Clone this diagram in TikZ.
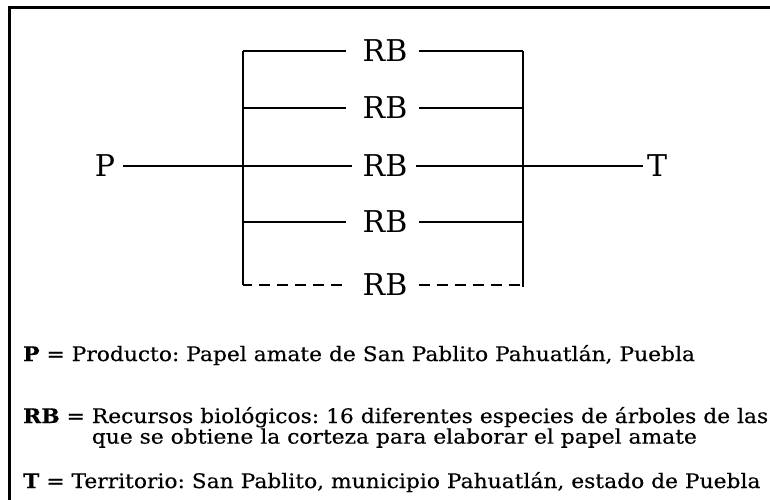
\documentclass[tikz,border=0pt]{standalone}
\usepackage{fontspec}
\setmainfont{DejaVu Serif}
\newfontfamily\keyfont[FakeStretch=1.09, FakeBold=0.4]{DejaVu Serif}

\begin{document}
\begin{tikzpicture}[
  x=1pt, y=-1pt,
  lbl/.style={inner sep=0pt, font=\fontsize{30}{32}\selectfont},
  link/.style={line width=1.7pt},
  dlink/.style={line width=1.7pt, dash pattern=on 11pt off 7pt},
  key/.style={anchor=base west, inner sep=0pt, font=\keyfont\fontsize{20}{18}\selectfont\frenchspacing},
]
  \useasboundingbox (0,0) rectangle (770,499);
  \fill[white] (0,0) rectangle (770,499);
  % Frame
  \draw[line width=3pt] (9,530) -- (9,7) -- (800,7);

  % Nodes
  \foreach \i/\y in {1/51, 2/108, 3/166, 4/222, 5/285}
    \node[lbl] (rb\i) at (385,\y) {RB};
  \node[lbl] (P) at (105,166) {P};
  \node[lbl] (T) at (657,166) {T};
  \coordinate (lbar) at (243,0);
  \coordinate (rbar) at (523,0);

  % Lines
  \foreach \i in {1,2,4}
    \draw[link] ([xshift=-16pt]rb\i.west) -- (rb\i.west -| lbar)
      ([xshift=11pt]rb\i.east) -- (rb\i.east -| rbar);
  \draw[link] (rb1.west -| lbar) -- (rb5.west -| lbar);
  \draw[link] (rb1.east -| rbar) -- ([yshift=-2pt]rb5.east -| rbar);
  \draw[link] ([xshift=8pt]P.east) -- ([xshift=-10pt]rb3.west);
  \draw[link] ([xshift=8pt]rb3.east) -- ([xshift=-4pt]T.west);
  \draw[dlink] ([xshift=-20pt]rb5.west) -- (rb5.west -| lbar);
  \draw[dlink] ([xshift=11pt]rb5.east) -- (rb5.east -| rbar);

  % Labels
  \node[key] (keyP) at (23,361) {\textbf{P} = Producto: Papel amate de San Pablito Pahuatlán, Puebla};
  \node[key] (keyRB) at (23,423) {\textbf{RB} = \begin{tabular}[t]{@{}l@{}}Recursos biológicos: 16 diferentes especies de árboles de las\\que se obtiene la corteza para elaborar el papel amate\end{tabular}};
  \node[key] (keyT) at (23,488) {\textbf{T} = Territorio: San Pablito, municipio Pahuatlán, estado de Puebla};
\end{tikzpicture}
\end{document}
